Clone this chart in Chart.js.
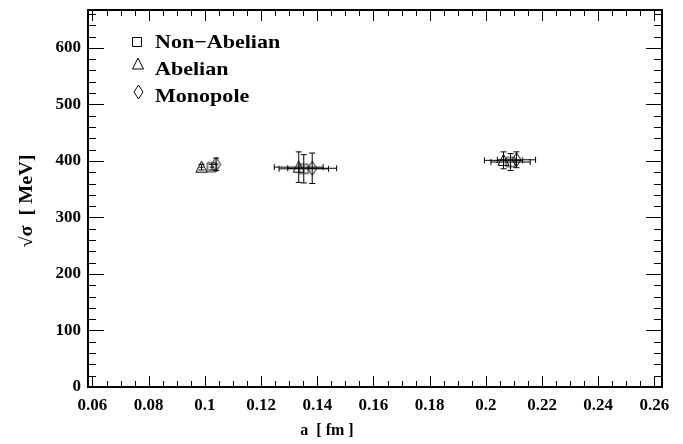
<!DOCTYPE html>
<html><head><meta charset="utf-8">
<script src="https://cdn.jsdelivr.net/npm/chart.js@4.4.1/dist/chart.umd.min.js"></script>
<style>html,body{margin:0;padding:0;background:#fff}#wrap{width:683px;height:444px;position:relative}</style>
</head><body><div id="wrap"><canvas id="c" width="683" height="444"></canvas></div>
<script>
// ---- data ----
const seriesNames = ['Non\u2212Abelian', 'Abelian', 'Monopole'];
const aNonAbelian = [0.1025, 0.1352, 0.2088];
const aErrNonAbelian = [0.0008, 0.0088, 0.0070];
const sigmaNonAbelian = [389, 386, 398];
const sigmaErrNonAbelian = [5, 25, 15];
const aAbelian = [0.0988, 0.1334, 0.2063];
const aErrAbelian = [0.0008, 0.0087, 0.0068];
const sigmaAbelian = [389, 389, 401];
const sigmaErrAbelian = [5, 27, 15];
const aMonopole = [0.1040, 0.1382, 0.2109];
const aErrMonopole = [0.0008, 0.0087, 0.0068];
const sigmaMonopole = [394, 387, 402];
const sigmaErrMonopole = [11, 27, 14];
const xTickValues = [0.06, 0.08, 0.1, 0.12, 0.14, 0.16, 0.18, 0.2, 0.22, 0.24, 0.26];
const xTickLabels = ['0.06', '0.08', '0.1', '0.12', '0.14', '0.16', '0.18', '0.2', '0.22', '0.24', '0.26'];
const yTickValues = [0, 100, 200, 300, 400, 500, 600];
const yTickLabels = ['0', '100', '200', '300', '400', '500', '600'];
const xTitle = 'a  [ fm ]';
const yTitle = '\u221A\u03C3  [ MeV]';

// ---- markers ----
function drawMarker(ctx, kind, cx, cy) {
  ctx.beginPath();
  if (kind === 'square') {
    ctx.rect(cx - 4.5, cy - 4.5, 9, 9);
  } else if (kind === 'triangle') {
    ctx.moveTo(cx, cy - 6); ctx.lineTo(cx + 5.5, cy + 5); ctx.lineTo(cx - 5.5, cy + 5); ctx.closePath();
  } else {
    ctx.moveTo(cx, cy - 7); ctx.lineTo(cx + 4.5, cy); ctx.lineTo(cx, cy + 7); ctx.lineTo(cx - 4.5, cy); ctx.closePath();
  }
  ctx.stroke();
}
function markerCanvas(kind) {
  const c = document.createElement('canvas');
  c.width = 17; c.height = 17;
  const g = c.getContext('2d');
  g.strokeStyle = '#000'; g.lineWidth = 1;
  drawMarker(g, kind, 8.5, 8.5);
  return c;
}

function pts(xs, ys) { return xs.map((x, i) => ({x: x, y: ys[i]})); }

const datasets = [
  {label: seriesNames[0], data: pts(aNonAbelian, sigmaNonAbelian), xErr: aErrNonAbelian, yErr: sigmaErrNonAbelian, pointStyle: markerCanvas('square'), kind: 'square'},
  {label: seriesNames[1], data: pts(aAbelian, sigmaAbelian), xErr: aErrAbelian, yErr: sigmaErrAbelian, pointStyle: markerCanvas('triangle'), kind: 'triangle'},
  {label: seriesNames[2], data: pts(aMonopole, sigmaMonopole), xErr: aErrMonopole, yErr: sigmaErrMonopole, pointStyle: markerCanvas('diamond'), kind: 'diamond'}
];

const errorBars = {
  id: 'errorBars',
  beforeDatasetsDraw(chart) {
    const ctx = chart.ctx, xs = chart.scales.x, ys = chart.scales.y;
    ctx.save();
    ctx.strokeStyle = '#000'; ctx.lineWidth = 1;
    chart.data.datasets.forEach(ds => {
      ds.data.forEach((p, i) => {
        const px = xs.getPixelForValue(p.x), py = ys.getPixelForValue(p.y);
        const y1 = ys.getPixelForValue(p.y - ds.yErr[i]), y2 = ys.getPixelForValue(p.y + ds.yErr[i]);
        const x1 = xs.getPixelForValue(p.x - ds.xErr[i]), x2 = xs.getPixelForValue(p.x + ds.xErr[i]);
        ctx.beginPath();
        ctx.moveTo(px, y1); ctx.lineTo(px, y2);
        ctx.moveTo(px - 3, y1); ctx.lineTo(px + 3, y1);
        ctx.moveTo(px - 3, y2); ctx.lineTo(px + 3, y2);
        ctx.moveTo(x1, py); ctx.lineTo(x2, py);
        if (x2 - x1 > 6) {
          ctx.moveTo(x1, py - 3); ctx.lineTo(x1, py + 3);
          ctx.moveTo(x2, py - 3); ctx.lineTo(x2, py + 3);
        }
        ctx.stroke();
      });
    });
    ctx.restore();
  }
};

const frame = {
  id: 'frame',
  afterDraw(chart) {
    const ctx = chart.ctx, a = chart.chartArea, xs = chart.scales.x, ys = chart.scales.y;
    ctx.save();
    ctx.strokeStyle = '#000';
    ctx.lineWidth = 1;
    ctx.beginPath();
    for (let i = 0; ; i++) {
      const v = Math.round((0.06 + i * 0.005) * 1000) / 1000;
      if (v > xs.max) break;
      const px = Math.round(xs.getPixelForValue(v)) + 0.5;
      const major = i % 4 === 0;
      const L = major ? 11 : 6;
      ctx.moveTo(px, a.bottom); ctx.lineTo(px, a.bottom - L);
      ctx.moveTo(px, a.top); ctx.lineTo(px, a.top + L);
    }
    for (let i = 0; ; i++) {
      const v = i * 20;
      if (v > ys.max) break;
      const py = Math.round(ys.getPixelForValue(v)) + 0.5;
      const major = i % 5 === 0;
      const L = major ? 16 : 8;
      ctx.moveTo(a.left, py); ctx.lineTo(a.left + L, py);
      ctx.moveTo(a.right, py); ctx.lineTo(a.right - L, py);
    }
    ctx.stroke();
    ctx.lineWidth = 2;
    ctx.strokeRect(a.left, a.top, a.right - a.left, a.bottom - a.top);
    ctx.restore();
  }
};

function stretchedText(ctx, txt, x, y, sx) {
  ctx.save();
  ctx.translate(x, y);
  ctx.scale(sx, 1);
  ctx.fillText(txt, 0, 0);
  ctx.restore();
}

const texts = {
  id: 'texts',
  afterDraw(chart) {
    const ctx = chart.ctx;
    ctx.save();
    ctx.fillStyle = '#000'; ctx.strokeStyle = '#000'; ctx.lineWidth = 1;
    // legend
    const rows = [[137, 42, 155, 48], [138, 64, 155, 75], [138.5, 92, 155, 102]];
    chart.data.datasets.forEach((ds, i) => {
      const r = rows[i];
      drawMarker(ctx, ds.kind, r[0], r[1]);
      ctx.font = 'bold 19px "Liberation Serif"';
      ctx.textAlign = 'left'; ctx.textBaseline = 'alphabetic';
      stretchedText(ctx, ds.label, r[2], r[3], 1.16);
    });
    // x title
    ctx.font = 'bold 16px "Liberation Serif"';
    ctx.textAlign = 'center'; ctx.textBaseline = 'middle';
    stretchedText(ctx, xTitle, 327, 431, 1.0);
    // y title
    ctx.font = 'bold 18px "Liberation Serif"';
    ctx.translate(27, 201);
    ctx.rotate(-Math.PI / 2);
    stretchedText(ctx, yTitle, 0, 0, 1.12);
    ctx.restore();
  }
};

const tickFont = {family: 'Liberation Serif', weight: 'bold', size: 17};

new Chart(document.getElementById('c'), {
  type: 'scatter',
  data: {datasets: datasets},
  options: {
    responsive: false, animation: false, devicePixelRatio: 1,
    layout: {padding: {left: 0, right: 21, top: 10, bottom: 0}},
    plugins: {legend: {display: false}, tooltip: {enabled: false}},
    elements: {point: {radius: 6, borderWidth: 1, borderColor: '#000', backgroundColor: 'rgba(0,0,0,0)'}},
    scales: {
      x: {
        type: 'linear', min: 0.0584, max: 0.2627,
        grid: {display: false, drawTicks: false}, border: {display: false},
        afterBuildTicks: s => { s.ticks = xTickValues.map(v => ({value: v})); },
        ticks: {autoSkip: false, maxRotation: 0, padding: 8, color: '#000', font: tickFont,
          callback: (v) => { const k = xTickValues.findIndex(t => Math.abs(t - v) < 1e-9); return k >= 0 ? xTickLabels[k] : ''; }},
        afterFit: s => { s.height = 57; s.paddingLeft = 0; s.paddingRight = 0; }
      },
      y: {
        type: 'linear', min: 0, max: 667,
        grid: {display: false, drawTicks: false}, border: {display: false},
        afterBuildTicks: s => { s.ticks = yTickValues.map(v => ({value: v})); },
        ticks: {autoSkip: false, padding: 7, color: '#000', font: tickFont,
          callback: (v) => { const k = yTickValues.indexOf(v); return k >= 0 ? yTickLabels[k] : ''; }},
        afterFit: s => { s.width = 88; s.paddingTop = 0; s.paddingBottom = 0; }
      }
    }
  },
  plugins: [errorBars, frame, texts]
});
</script></body></html>
